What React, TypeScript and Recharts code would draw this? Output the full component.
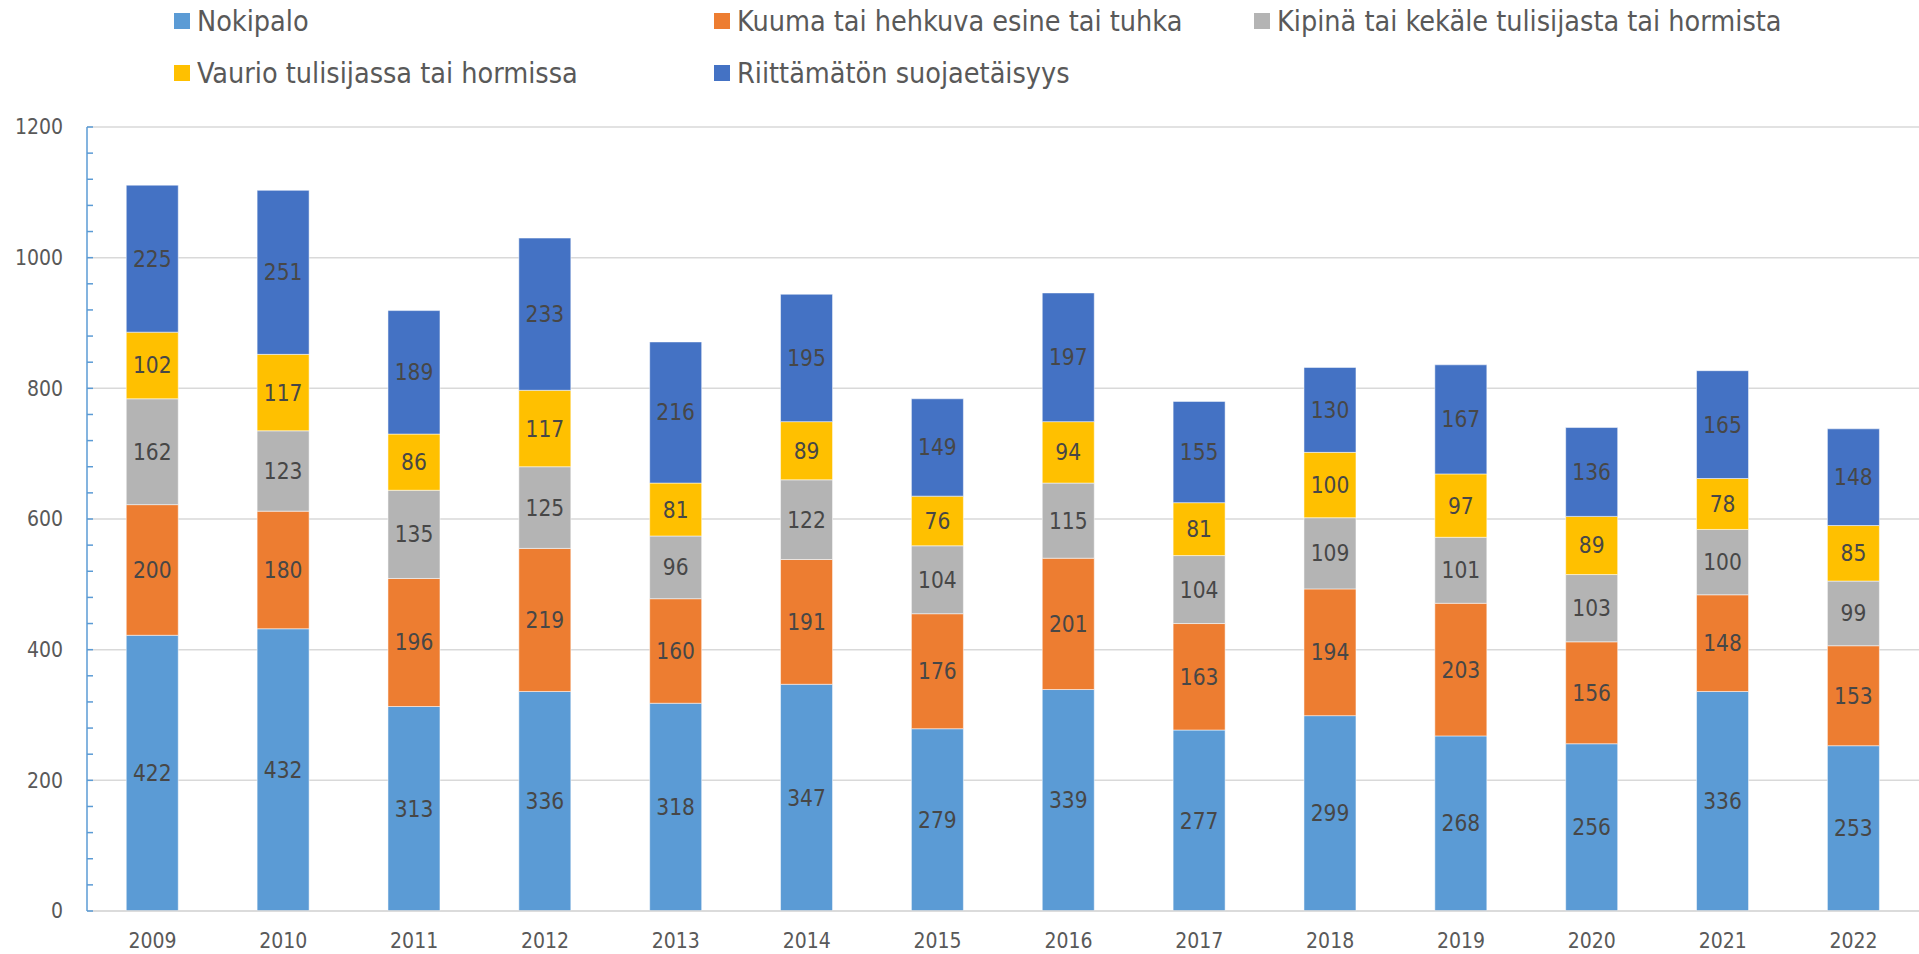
import { Bar, BarChart, CartesianGrid, LabelList, Legend, XAxis, YAxis } from "recharts";

const years = ["2009", "2010", "2011", "2012", "2013", "2014", "2015", "2016", "2017", "2018", "2019", "2020", "2021", "2022"];

const nokipalo = [422, 432, 313, 336, 318, 347, 279, 339, 277, 299, 268, 256, 336, 253];
const kuuma = [200, 180, 196, 219, 160, 191, 176, 201, 163, 194, 203, 156, 148, 153];
const kipina = [162, 123, 135, 125, 96, 122, 104, 115, 104, 109, 101, 103, 100, 99];
const vaurio = [102, 117, 86, 117, 81, 89, 76, 94, 81, 100, 97, 89, 78, 85];
const suojaetaisyys = [225, 251, 189, 233, 216, 195, 149, 197, 155, 130, 167, 136, 165, 148];

const series = [
  { key: "nokipalo", name: "Nokipalo", color: "#5B9BD5", values: nokipalo },
  { key: "kuuma", name: "Kuuma tai hehkuva esine tai tuhka", color: "#ED7D31", values: kuuma },
  { key: "kipina", name: "Kipinä tai kekäle tulisijasta tai hormista", color: "#B4B4B4", values: kipina },
  { key: "vaurio", name: "Vaurio tulisijassa tai hormissa", color: "#FFC000", values: vaurio },
  { key: "suoja", name: "Riittämätön suojaetäisyys", color: "#4472C4", values: suojaetaisyys },
];

const yTicks = [0, 40, 80, 120, 160, 200, 240, 280, 320, 360, 400, 440, 480, 520, 560, 600, 640, 680, 720, 760, 800, 840, 880, 920, 960, 1000, 1040, 1080, 1120, 1160, 1200];
const yLabels = [0, 200, 400, 600, 800, 1000, 1200];

const data = years.map((year, i) => {
  const row: Record<string, string | number> = { year };
  series.forEach((s) => {
    row[s.key] = s.values[i];
  });
  return row;
});

const FONT = "'Liberation Sans Narrow', 'DejaVu Sans Condensed', Roboto, sans-serif";

// legend slots: column, row
const legendSlots = [
  [0, 0],
  [1, 0],
  [2, 0],
  [0, 1],
  [1, 1],
];

function LegendBox() {
  return (
    <div style={{ position: "relative", width: 1919, height: 100, fontFamily: FONT }}>
      {series.map((s, i) => {
        const [col, row] = legendSlots[i];
        return (
          <div
            key={s.key}
            style={{
              position: "absolute",
              left: 174 + col * 540,
              top: 4 + row * 52,
              height: 34,
              display: "flex",
              alignItems: "center",
              whiteSpace: "nowrap",
            }}
          >
            <span style={{ width: 16, height: 16, background: s.color, marginRight: 7 }} />
            <span style={{ fontSize: 28.5, color: "#595959" }}>{s.name}</span>
          </div>
        );
      })}
    </div>
  );
}

interface TickProps {
  x?: number;
  y?: number;
  payload?: { value: number };
}

function YTick({ x = 0, y = 0, payload }: TickProps) {
  const v = payload?.value ?? 0;
  return (
    <g>
      <line x1={x} x2={x + 6} y1={y} y2={y} stroke="#5B9BD5" strokeWidth={1.5} />
      {yLabels.includes(v) && (
        <text x={x - 24} y={y} dy="0.35em" textAnchor="end" fill="#595959" fontSize={21} fontFamily={FONT}>
          {v}
        </text>
      )}
    </g>
  );
}

export default function App() {
  return (
    <div style={{ position: "absolute", left: 0, top: 0, width: 1919, height: 954, background: "#fff" }}>
      <BarChart
        width={1919}
        height={954}
        data={data}
        margin={{ top: 27, right: 0, bottom: 0, left: 0 }}
        barCategoryGap="30%"
      >
        <CartesianGrid vertical={false} horizontalValues={yLabels} stroke="#D9D9D9" strokeWidth={1.5} />
        <XAxis
          dataKey="year"
          height={43}
          tickLine={false}
          tickSize={0}
          tickMargin={22}
          axisLine={{ stroke: "#D9D9D9", strokeWidth: 1.5 }}
          tick={{ fill: "#595959", fontSize: 21, fontFamily: FONT }}
          interval={0}
        />
        <YAxis
          width={87}
          domain={[0, 1200]}
          ticks={yTicks}
          interval={0}
          tickLine={false}
          tickSize={0}
          tickMargin={0}
          axisLine={{ stroke: "#5B9BD5", strokeWidth: 1.5 }}
          tick={<YTick />}
        />
        <Legend verticalAlign="top" align="left" wrapperStyle={{ top: 0, left: 0, width: 1919 }} content={() => <LegendBox />} />
        {series.map((s) => (
          <Bar
            key={s.key}
            dataKey={s.key}
            name={s.name}
            stackId="a"
            fill={s.color}
            stroke="rgba(255,255,255,0.5)"
            strokeWidth={1}
            isAnimationActive={false}
          >
            <LabelList dataKey={s.key} position="center" fill="#474747" fontSize={22.5} fontFamily={FONT} />
          </Bar>
        ))}
      </BarChart>
    </div>
  );
}
